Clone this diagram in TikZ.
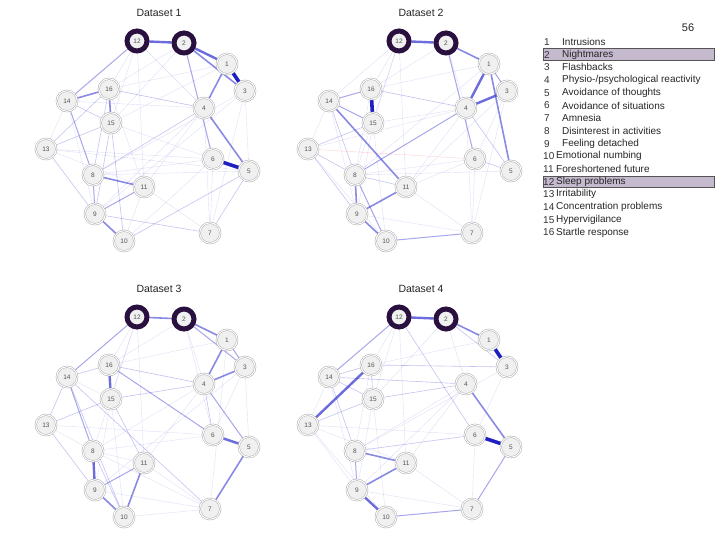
\documentclass[tikz,border=0pt]{standalone}
\usepackage{fontspec}
\setmainfont{Liberation Sans}
\setsansfont{Liberation Sans}
\pgfdeclarelayer{bg}
\pgfsetlayers{bg,main}
\definecolor{edgeblue}{RGB}{60,60,210}
\definecolor{edgedark}{RGB}{20,20,190}
\definecolor{ringcol}{RGB}{42,16,62}
\definecolor{hlfill}{RGB}{197,185,206}
\definecolor{hldraw}{RGB}{85,85,85}
\tikzset{
  pnode/.style={circle,minimum size=20.5pt,inner sep=0pt,draw=gray!65,double=white,double distance=1pt,line width=0.5pt,fill=gray!12,text=gray!65!black,font=\fontsize{6.5}{6.5}\selectfont},
  bignode/.style={circle,minimum size=20pt,inner sep=0pt,draw=ringcol,line width=5pt,fill=gray!12,text=gray!65!black,font=\fontsize{6.5}{6.5}\selectfont},
  w1/.style={draw=edgeblue,line width=0.4pt,opacity=0.16},
  w2/.style={draw=edgeblue,line width=0.6pt,opacity=0.3},
  w3/.style={draw=edgeblue,line width=1pt,opacity=0.45},
  w4/.style={draw=edgeblue,line width=1.6pt,opacity=0.6},
  w5/.style={draw=edgeblue,line width=2.4pt,opacity=0.75},
  w6/.style={draw=edgedark,line width=3.6pt,opacity=0.95},
  r1/.style={draw=red!60,line width=0.5pt,opacity=0.25},
  ttl/.style={font=\fontsize{10.5}{12}\selectfont,text=black!85},
  legnum/.style={anchor=west,inner sep=0pt,font=\fontsize{10}{12}\selectfont,text=black!80},
  legtxt/.style={anchor=west,inner sep=0pt,font=\fontsize{10}{12}\selectfont,text=black!85},
  hlbox/.style={fill=hlfill,draw=hldraw,line width=1pt}
}
\newcommand{\drawpanel}[5]{%
  \begin{scope}[shift={(#2,#3)}]
    \node[ttl] (#1t) at (159,13) {Dataset #5};
    \node[bignode] (#112) at (137,41) {12};
    \node[bignode] (#12) at (184,43) {2};
    \foreach \n/\px/\py in {1/227/64,3/245/91,16/109/89,14/67/101,4/204/108,15/111/123,13/46/149,6/213/159,5/249/171,8/93/175,11/144/187,9/95/214,7/210/233,10/124/241}
      \node[pnode] (#1\n) at (\px,\py) {\n};
    \begin{pgfonlayer}{bg}
      \foreach \u/\v/\s in {#4}
        \draw[\s] (#1\u) -- (#1\v);
    \end{pgfonlayer}
  \end{scope}
}
\begin{document}
\begin{tikzpicture}[x=1pt,y=-1pt]
\begin{pgfonlayer}{bg}
\fill[white] (0,0) rectangle (720,540);
\end{pgfonlayer}
\useasboundingbox (0,0) rectangle (720,540);

% Dataset 1
\drawpanel{a}{0}{0}{1/3/w6,6/5/w6,12/2/w5,2/1/w5,2/3/w4,1/4/w4,14/16/w4,16/15/w4,12/14/w3,4/5/w4,2/6/w3,8/11/w4,9/11/w3,9/10/w4,14/8/w3,8/9/w3,16/13/w2,15/13/w2,16/4/w2,10/5/w2,5/7/w2,9/7/w2,15/9/w2,15/10/w2,13/9/w2,4/8/w2,14/15/w2,16/8/w2,12/16/w1,12/4/w1,12/11/w1,3/5/w1,3/7/w1,4/7/w1,4/11/w1,2/16/w1,1/16/w1,13/6/w1,13/11/w1,8/6/w1,8/5/w1,11/10/w1,11/7/w1,10/6/w1,14/13/w1,14/9/w1,3/8/w1,15/6/w1,12/15/w1,2/15/w1,1/15/w1,3/9/w1,4/9/w1,13/5/w1,14/4/w1,16/11/w1,6/7/w1}{1}

% Dataset 2
\drawpanel{b}{262}{0}{12/2/w5,16/15/w6,2/1/w4,1/4/w5,4/3/w5,1/3/w3,1/5/w4,2/6/w3,14/16/w3,14/15/w3,14/11/w4,14/8/w2,13/8/w2,13/9/w2,8/9/w4,8/10/w3,9/10/w4,9/11/w4,8/11/w2,8/4/w3,10/7/w3,6/5/w2,16/4/w2,13/6/r1,13/15/w2,12/16/w1,12/14/w1,12/11/w1,2/4/w1,2/16/w1,16/1/w1,4/5/w2,4/7/w1,3/7/w1,6/7/w1,11/6/w1,11/4/w1,8/5/w1,8/6/w1,15/9/w1,15/10/w1,9/7/w1,3/6/w1,13/10/w1,12/15/w1,12/8/w1,14/13/w1,14/9/w1,15/4/w1,13/4/w1,3/11/w1,1/8/w1,11/7/w1,16/8/w1}{2}

% Dataset 3
\drawpanel{c}{0}{276}{12/2/w4,2/1/w4,2/3/w3,1/4/w4,4/3/w4,1/3/w3,16/15/w5,12/14/w3,14/16/w2,16/6/w3,6/5/w5,4/5/w3,4/6/w2,5/7/w4,8/9/w5,9/10/w4,10/11/w4,9/11/w3,14/8/w3,14/13/w2,13/15/w2,13/9/w2,14/10/w2,14/7/w2,8/10/w2,15/4/w2,15/11/w2,12/16/w1,12/15/w1,12/11/w1,2/4/w1,2/6/w1,3/5/w1,3/6/w1,8/7/w1,9/7/w1,10/7/w1,11/7/w1,8/11/w1,13/8/w1,16/4/w2,4/8/w1,1/7/w1,12/8/w1,2/16/w1,1/16/w1,14/15/w1,15/9/w1,15/10/w1,13/6/w1,3/9/w1,4/11/w1,8/6/w1}{3}

% Dataset 4
\drawpanel{d}{262}{276}{12/2/w5,1/3/w6,2/1/w4,2/3/w2,16/13/w5,12/14/w3,6/5/w6,4/5/w4,5/7/w3,10/7/w3,9/10/w5,8/11/w4,9/11/w4,8/9/w3,14/8/w2,14/4/w2,14/15/w2,14/16/w2,15/13/w2,15/4/w2,16/15/w2,12/6/w2,2/4/w1,12/11/w1,12/16/w1,16/3/w2,16/1/w1,13/9/w1,13/11/w1,8/4/w1,8/6/w2,11/4/w1,6/7/w1,15/9/w1,15/10/w1,3/6/w1,9/7/w1,13/10/w1,12/15/w1,2/15/w1,14/13/w1,14/9/w1,4/9/w1,3/8/w1,13/6/w1,11/7/w1,16/8/w1}{4}

% Legend
\node[font=\fontsize{11}{13}\selectfont,text=black!85] (pg) at (688,28) {56};
\path[hlbox] (543,49) rectangle (714,61);
\path[hlbox] (543,176.5) rectangle (714,188);
\foreach \k/\lab in {1/Intrusions,2/Nightmares,3/Flashbacks,4/{Physio-/psychological reactivity},5/Avoidance of thoughts,6/Avoidance of situations,7/Amnesia,8/Disinterest in activities,9/Feeling detached}{
  \node[legnum] (ln\k) at (544,{42+(\k-1)*12.7}) {\k};
  \node[legtxt] (lt\k) at (562,{42+(\k-1)*12.7}) {\lab};
}
\foreach \k/\lab in {10/Emotional numbing,11/Foreshortened future,12/Sleep problems,13/Irritability,14/Concentration problems,15/Hypervigilance,16/Startle response}{
  \node[legnum] (ln\k) at (543,{42+(\k-1)*12.7}) {\k};
  \node[legtxt] (lt\k) at (556,{42+(\k-1)*12.7}) {\lab};
}
\end{tikzpicture}
\end{document}
